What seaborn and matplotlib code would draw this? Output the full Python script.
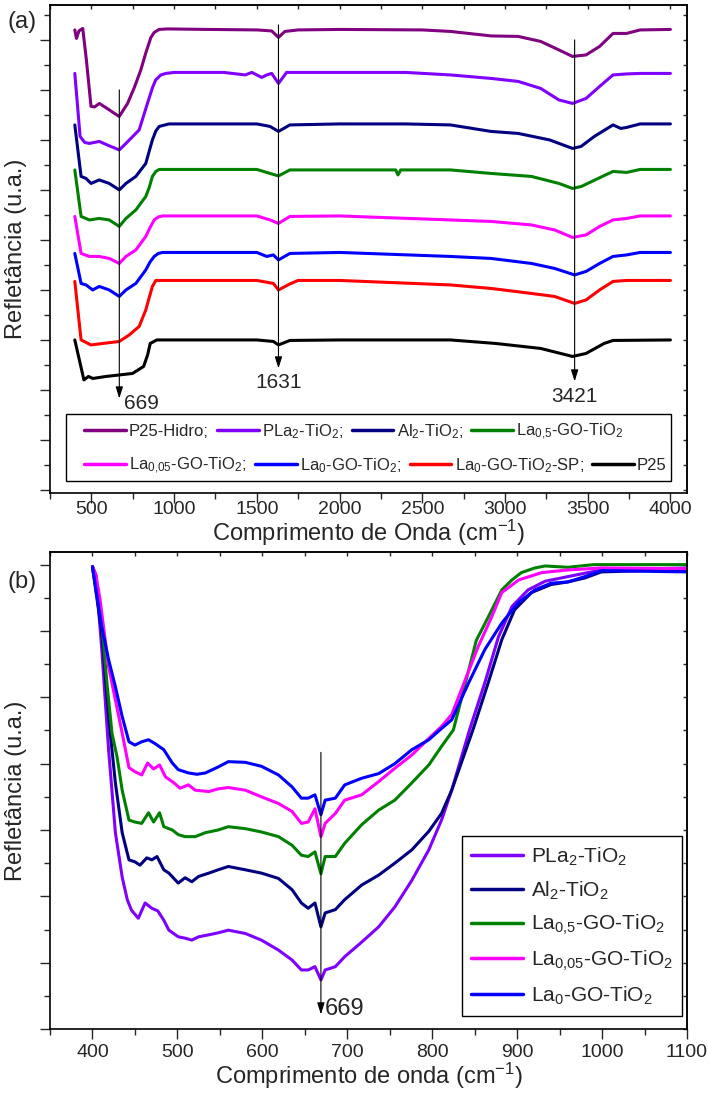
import pandas as pd
import seaborn as sns
import matplotlib.pyplot as plt
from matplotlib.lines import Line2D
from matplotlib.patches import Rectangle
from matplotlib.ticker import MultipleLocator, NullFormatter

# ---------------- (a) espectros completos, empilhados ----------------
hidro_wn = [400, 410, 425, 448, 470, 498, 520, 548, 600, 640, 669, 719, 760, 799, 830, 860, 880, 910,
            960, 1200, 1500, 1590, 1631, 1670, 1750, 2000, 2500, 2670, 2916, 3080, 3216, 3326, 3408,
            3490, 3572, 3653, 3735, 3817, 4000]
hidro_r = [9.20, 9.03, 9.18, 9.23, 8.60, 7.67, 7.66, 7.73, 7.62, 7.53, 7.47, 7.73, 8.05, 8.40, 8.75,
           9.05, 9.15, 9.21, 9.22, 9.21, 9.20, 9.18, 9.05, 9.17, 9.20, 9.21, 9.20, 9.17, 9.08, 9.07,
           8.97, 8.80, 8.67, 8.70, 8.87, 9.13, 9.13, 9.20, 9.21]

pla2_wn = [400, 432, 460, 488, 548, 610, 669, 709, 789, 839, 870, 889, 920, 950, 1000, 1300, 1430,
           1470, 1530, 1560, 1590, 1631, 1680, 2000, 2400, 2670, 2916, 3080, 3216, 3326, 3408, 3490,
           3572, 3653, 3735, 3817, 4000]
pla2_r = [8.33, 7.07, 6.95, 6.93, 6.97, 6.88, 6.80, 6.93, 7.20, 7.73, 8.05, 8.20, 8.30, 8.33, 8.35,
          8.35, 8.30, 8.35, 8.25, 8.30, 8.33, 8.13, 8.35, 8.35, 8.35, 8.30, 8.23, 8.17, 8.03, 7.80,
          7.73, 7.83, 8.07, 8.30, 8.32, 8.33, 8.33]

al2_wn = [400, 438, 468, 498, 548, 608, 669, 709, 769, 829, 850, 869, 890, 910, 970, 1500, 1580,
          1631, 1700, 2000, 2400, 2670, 2916, 3080, 3270, 3408, 3460, 3540, 3653, 3700, 3735, 3817,
          4000]
al2_r = [7.30, 6.27, 6.23, 6.13, 6.20, 6.13, 6.00, 6.13, 6.27, 6.53, 6.78, 7.00, 7.18, 7.27, 7.32,
         7.32, 7.27, 7.17, 7.30, 7.32, 7.32, 7.30, 7.17, 7.13, 7.00, 6.83, 6.87, 7.07, 7.30, 7.23,
         7.25, 7.32, 7.32]

la05_wn = [400, 438, 488, 548, 608, 669, 709, 769, 829, 850, 869, 890, 910, 1500, 1580, 1631, 1700,
           2340, 2353, 2370, 2670, 2916, 3160, 3326, 3408, 3462, 3544, 3653, 3735, 3817, 4000]
la05_r = [6.40, 5.47, 5.40, 5.43, 5.40, 5.27, 5.43, 5.60, 5.87, 6.05, 6.27, 6.37, 6.41, 6.41, 6.33,
          6.28, 6.40, 6.40, 6.30, 6.40, 6.40, 6.33, 6.27, 6.13, 6.03, 6.07, 6.20, 6.37, 6.35, 6.41,
          6.41]

la005_wn = [400, 438, 488, 548, 608, 669, 709, 769, 829, 855, 880, 905, 930, 1500, 1580, 1631, 1700,
            2000, 2670, 2916, 3160, 3300, 3408, 3490, 3572, 3653, 3735, 3817, 4000]
la005_r = [5.47, 4.73, 4.67, 4.67, 4.63, 4.53, 4.67, 4.80, 5.07, 5.25, 5.40, 5.46, 5.48, 5.48, 5.40,
           5.33, 5.47, 5.48, 5.40, 5.37, 5.30, 5.20, 5.05, 5.10, 5.27, 5.40, 5.43, 5.48, 5.48]

la0_wn = [400, 438, 468, 508, 548, 608, 669, 709, 769, 829, 855, 880, 905, 930, 1500, 1560, 1600,
          1631, 1700, 2000, 2670, 2916, 3160, 3300, 3421, 3490, 3572, 3653, 3735, 3817, 4000]
la0_r = [4.73, 4.13, 4.10, 4.00, 4.07, 4.00, 3.87, 4.00, 4.13, 4.40, 4.56, 4.67, 4.73, 4.75, 4.75,
         4.67, 4.70, 4.60, 4.73, 4.75, 4.67, 4.63, 4.53, 4.43, 4.30, 4.37, 4.53, 4.67, 4.70, 4.75,
         4.75]

sp_wn = [400, 438, 498, 570, 669, 729, 789, 829, 850, 869, 890, 1500, 1600, 1631, 1700, 1750, 2000,
         2670, 2916, 3160, 3300, 3421, 3490, 3572, 3653, 3735, 4000]
sp_r = [4.17, 3.00, 2.90, 2.93, 2.97, 3.10, 3.27, 3.60, 3.85, 4.07, 4.19, 4.19, 4.13, 4.00, 4.12,
        4.19, 4.19, 4.10, 4.03, 3.93, 3.87, 3.73, 3.80, 4.00, 4.17, 4.19, 4.19]

p25_wn = [400, 455, 482, 509, 589, 669, 749, 816, 840, 856, 896, 1500, 1600, 1631, 1700, 2000, 2670,
          2943, 3216, 3408, 3490, 3599, 3653, 4000]
p25_r = [3.00, 2.20, 2.27, 2.23, 2.27, 2.30, 2.33, 2.47, 2.70, 2.93, 3.00, 3.00, 2.97, 2.90, 2.99,
         3.00, 3.00, 2.93, 2.83, 2.67, 2.73, 2.93, 2.99, 3.00]

series_a = ['P25-Hidro;', 'PLa$_2$-TiO$_2$;', 'Al$_2$-TiO$_2$;', 'La$_{0{,}5}$-GO-TiO$_2$',
            'La$_{0{,}05}$-GO-TiO$_2$;', 'La$_0$-GO-TiO$_2$;', 'La$_0$-GO-TiO$_2$-SP;', 'P25']
cores_a = ['#800080', '#8000FF', '#000080', '#008000', '#FF00FF', '#0000FF', '#FF0000', '#000000']
picos_a = [669, 1631, 3421]

# ---------------- (b) detalhe 400-1100 cm-1 ----------------
b_pla2_wn = [400, 404, 411, 419, 427, 435, 441, 446, 454, 462, 470, 477, 484, 490, 501, 509, 517, 525,
             537, 548, 560, 580, 599, 619, 635, 646, 654, 662, 669, 674, 686, 697, 717, 737, 756, 776,
             796, 811, 823, 844, 862, 878, 894, 913, 933, 960, 999, 1100]
b_pla2_r = [6.97, 6.85, 5.72, 4.21, 2.96, 2.29, 1.95, 1.79, 1.67, 1.90, 1.82, 1.78, 1.64, 1.49, 1.39,
            1.37, 1.34, 1.39, 1.42, 1.45, 1.49, 1.44, 1.34, 1.19, 1.04, 0.89, 0.89, 0.94, 0.74, 0.89,
            0.94, 1.09, 1.31, 1.54, 1.84, 2.24, 2.70, 3.15, 3.60, 4.51, 5.22, 5.91, 6.37, 6.62, 6.75,
            6.82, 6.92, 6.95]

b_al2_wn = [400, 411, 419, 427, 435, 443, 450, 456, 464, 470, 476, 484, 490, 501, 509, 517, 525, 537,
            548, 560, 580, 599, 619, 635, 646, 654, 662, 669, 674, 686, 697, 717, 737, 756, 776, 796,
            811, 823, 848, 866, 882, 897, 917, 940, 960, 980, 999, 1100]
b_al2_r = [6.97, 5.97, 4.71, 3.71, 2.96, 2.55, 2.52, 2.47, 2.58, 2.55, 2.60, 2.40, 2.35, 2.20, 2.28,
           2.22, 2.30, 2.35, 2.40, 2.45, 2.40, 2.35, 2.27, 2.10, 1.90, 1.82, 1.90, 1.54, 1.75, 1.80,
           1.95, 2.17, 2.32, 2.50, 2.70, 2.98, 3.25, 3.60, 4.51, 5.22, 5.87, 6.32, 6.58, 6.70, 6.74,
           6.80, 6.89, 6.93]

b_la05_wn = [400, 411, 417, 423, 429, 435, 443, 450, 458, 466, 472, 479, 484, 494, 501, 509, 521, 533,
             548, 560, 580, 599, 619, 635, 646, 654, 662, 669, 674, 686, 697, 717, 737, 756, 776, 796,
             811, 825, 852, 866, 882, 894, 905, 921, 933, 960, 990, 1100]
b_la05_r = [6.97, 6.12, 5.22, 4.46, 4.10, 3.60, 3.15, 3.12, 3.10, 3.26, 3.12, 3.26, 3.05, 3.00, 2.93,
            2.90, 2.90, 2.96, 3.00, 3.05, 3.02, 2.97, 2.90, 2.77, 2.62, 2.60, 2.67, 2.34, 2.60, 2.60,
            2.80, 3.08, 3.30, 3.45, 3.71, 3.98, 4.26, 4.51, 5.86, 6.21, 6.62, 6.77, 6.88, 6.95, 6.98,
            6.96, 7.00, 7.00]

b_la005_wn = [400, 404, 409, 419, 427, 435, 443, 450, 458, 465, 472, 479, 486, 496, 503, 513, 521, 537,
              548, 560, 580, 599, 619, 635, 646, 654, 662, 669, 674, 686, 697, 717, 737, 756, 776, 796,
              811, 823, 854, 870, 882, 902, 929, 960, 999, 1100]
b_la005_r = [6.97, 6.85, 6.47, 5.46, 4.96, 4.46, 3.94, 3.88, 3.83, 4.01, 3.92, 3.98, 3.80, 3.71, 3.63,
             3.68, 3.60, 3.58, 3.62, 3.64, 3.60, 3.50, 3.40, 3.28, 3.10, 3.12, 3.32, 2.90, 3.10, 3.25,
             3.45, 3.53, 3.73, 3.93, 4.13, 4.38, 4.56, 4.74, 5.76, 6.21, 6.58, 6.77, 6.88, 6.92, 6.95,
             6.94]

b_la0_wn = [400, 411, 419, 427, 435, 443, 450, 458, 466, 474, 484, 494, 501, 513, 523, 533, 548, 560,
            580, 599, 619, 635, 646, 654, 662, 669, 674, 686, 697, 717, 737, 756, 776, 796, 811, 823,
            843, 862, 882, 901, 921, 940, 960, 980, 999, 1100]
b_la0_r = [6.97, 6.06, 5.57, 5.16, 4.71, 4.33, 4.28, 4.33, 4.36, 4.30, 4.21, 4.01, 3.91, 3.86, 3.84,
           3.86, 3.95, 4.03, 4.02, 3.96, 3.83, 3.65, 3.48, 3.48, 3.53, 3.23, 3.45, 3.48, 3.68, 3.78,
           3.85, 4.00, 4.21, 4.36, 4.53, 4.66, 5.22, 5.72, 6.12, 6.42, 6.62, 6.72, 6.74, 6.82, 6.91,
           6.89]

series_b = ['PLa$_2$-TiO$_2$', 'Al$_2$-TiO$_2$', 'La$_{0{,}5}$-GO-TiO$_2$',
            'La$_{0{,}05}$-GO-TiO$_2$', 'La$_0$-GO-TiO$_2$']
cores_b = ['#8000FF', '#000080', '#008000', '#FF00FF', '#0000FF']


def tabela(pares, nomes):
    partes = []
    for (wn, r), nome in zip(pares, nomes):
        partes.append(pd.DataFrame({'wn': wn, 'r': r, 'amostra': nome}))
    return pd.concat(partes, ignore_index=True)


df_a = tabela([(hidro_wn, hidro_r), (pla2_wn, pla2_r), (al2_wn, al2_r), (la05_wn, la05_r),
               (la005_wn, la005_r), (la0_wn, la0_r), (sp_wn, sp_r), (p25_wn, p25_r)], series_a)
df_b = tabela([(b_pla2_wn, b_pla2_r), (b_al2_wn, b_al2_r), (b_la05_wn, b_la05_r),
               (b_la005_wn, b_la005_r), (b_la0_wn, b_la0_r)], series_b)

sns.set_style('ticks')
plt.rcParams['font.family'] = ['Liberation Sans', 'DejaVu Sans']
plt.rcParams['mathtext.fontset'] = 'custom'
plt.rcParams['mathtext.rm'] = 'Liberation Sans'
plt.rcParams['mathtext.it'] = 'Liberation Sans:italic'
plt.rcParams['axes.linewidth'] = 1.2

fig = plt.figure(figsize=(7.08, 10.94), dpi=100)
ax1 = fig.add_axes([0.0706, 0.5494, 0.8997, 0.4461])
ax2 = fig.add_axes([0.0706, 0.0594, 0.8997, 0.4360])

sns.lineplot(data=df_a, x='wn', y='r', hue='amostra', hue_order=series_a, palette=cores_a,
             sort=False, estimator=None, lw=2.2, legend=False, ax=ax1)
sns.lineplot(data=df_b, x='wn', y='r', hue='amostra', hue_order=series_b, palette=cores_b,
             sort=False, estimator=None, lw=2.2, legend=False, ax=ax2)


def eixos(ax, xlim, ylim, xmaj, xmin, xlabel, pad):
    ax.set_xlim(*xlim)
    ax.set_ylim(*ylim)
    ax.xaxis.set_major_locator(MultipleLocator(xmaj))
    ax.xaxis.set_minor_locator(MultipleLocator(xmin))
    ax.yaxis.set_major_locator(MultipleLocator(1))
    ax.yaxis.set_minor_locator(MultipleLocator(0.5))
    ax.yaxis.set_major_formatter(NullFormatter())
    ax.tick_params(which='major', direction='out', length=7, width=1, top=False, right=False)
    ax.tick_params(which='minor', direction='out', length=4, width=1, top=False, right=False)
    ax.tick_params(axis='x', which='major', labelsize=14, pad=pad)
    ax.set_xlabel(xlabel, fontsize=17, labelpad=0)
    ax.set_ylabel('Refletância (u.a.)', fontsize=17, labelpad=6)
    for s in ax.spines.values():
        s.set_visible(True)
        s.set_color('black')
    # ticks internos no topo e à direita
    top = ax.secondary_xaxis('top')
    top.xaxis.set_major_locator(MultipleLocator(xmin))
    top.tick_params(direction='in', length=3, width=1, labeltop=False)
    right = ax.secondary_yaxis('right')
    right.yaxis.set_major_locator(MultipleLocator(0.5))
    right.tick_params(direction='in', length=3, width=1, labelright=False)


eixos(ax1, (250, 4100), (-0.06, 9.7), 500, 250, 'Comprimento de Onda (cm$^{-1}$)', -1)
eixos(ax2, (350, 1100), (0, 7.19), 100, 50, 'Comprimento de onda (cm$^{-1}$)', 3.5)

seta = dict(arrowstyle='-|>,head_length=0.7,head_width=0.22', color='black', lw=0.8,
            shrinkA=0, shrinkB=0)
# (a) setas das bandas
ax1.annotate('', xy=(picos_a[0], 1.83), xytext=(picos_a[0], 8.0), arrowprops=seta)
ax1.annotate('', xy=(picos_a[1], 2.43), xytext=(picos_a[1], 9.3), arrowprops=seta)
ax1.annotate('', xy=(picos_a[2], 2.17), xytext=(picos_a[2], 9.0), arrowprops=seta)
ax1.text(700, 1.72, '669', fontsize=15, va='center', ha='left')
ax1.text(picos_a[1], 2.14, '1631', fontsize=15, va='center', ha='center')
ax1.text(picos_a[2], 1.86, '3421', fontsize=15, va='center', ha='center')
# (b)
ax2.annotate('', xy=(669, 0.22), xytext=(669, 4.17), arrowprops=seta)
ax2.text(674, 0.30, '669', fontsize=17, va='center', ha='left')

# legenda (a): duas linhas independentes dentro de uma moldura
h_a = [Line2D([], [], color=c, lw=2.5) for c in cores_a]
kw = dict(ncol=4, loc='center left', frameon=False, fontsize=12, handlelength=2.5,
          handletextpad=0.2, columnspacing=0.5, borderpad=0, borderaxespad=0)
leg1 = ax1.legend(h_a[:4], series_a[:4], bbox_to_anchor=(0.0534, 0.125), **kw)
ax1.add_artist(leg1)
ax1.legend(h_a[4:], series_a[4:], bbox_to_anchor=(0.0534, 0.0553), **kw)
ax1.add_patch(Rectangle((0.0251, 0.0246), 0.950, 0.137, transform=ax1.transAxes,
                        fill=False, lw=1.0, ec='black', zorder=5))

h_b = [Line2D([], [], color=c, lw=2.5) for c in cores_b]
ax2.legend(h_b, series_b, loc='lower right', bbox_to_anchor=(0.992, 0.027), fontsize=15,
           frameon=True, fancybox=False, edgecolor='black', framealpha=1, handlelength=2.5,
           handletextpad=0.35, labelspacing=0.55, borderaxespad=0, borderpad=0.45)

fig.text(22 / 708, 1 - 22 / 1094, '(a)', fontsize=17, ha='center', va='center')
fig.text(22 / 708, 1 - 582 / 1094, '(b)', fontsize=17, ha='center', va='center')

fig.savefig('out.png', dpi=100)
